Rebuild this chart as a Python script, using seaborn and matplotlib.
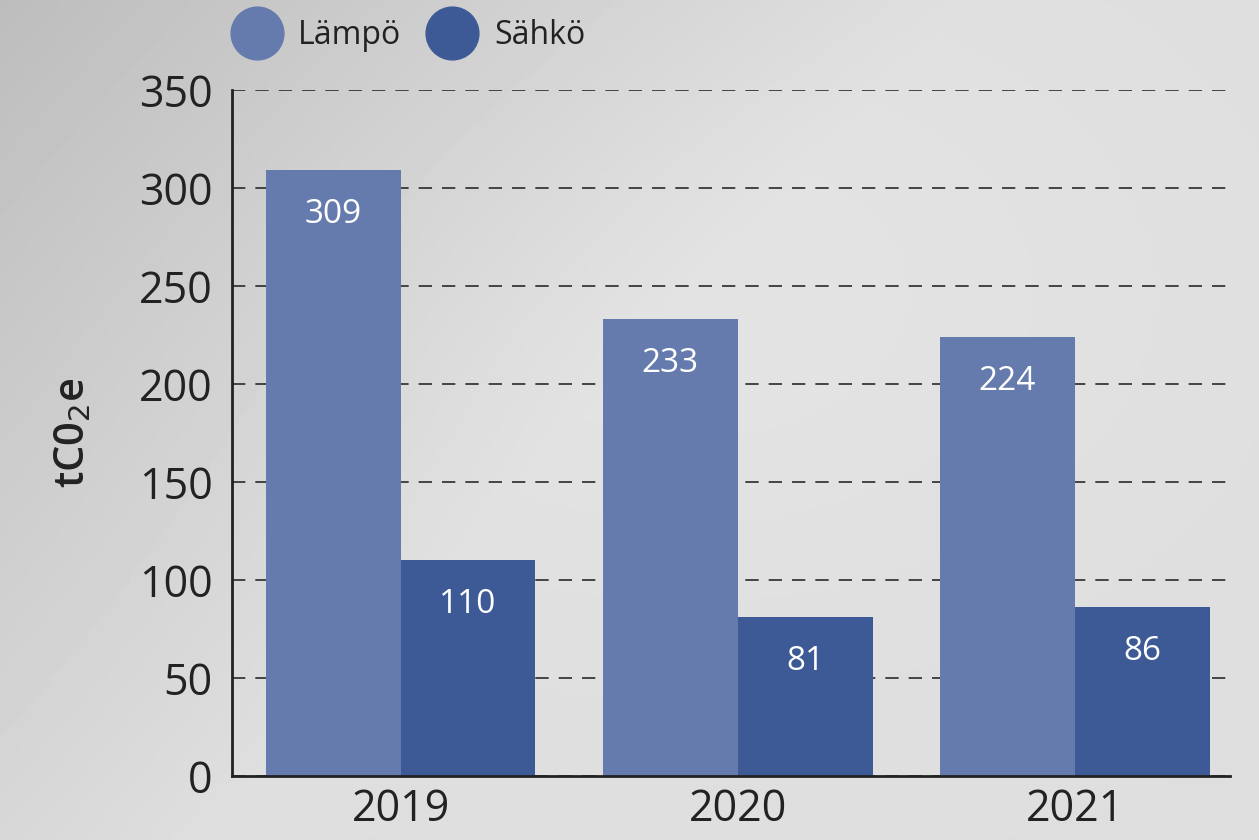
import numpy as np
import pandas as pd
import matplotlib.pyplot as plt
import seaborn as sns
from matplotlib.lines import Line2D

# Data
years = ['2019', '2020', '2021']
lampo = [309, 233, 224]
sahko = [110, 81, 86]
series_names = ['Lämpö', 'Sähkö']
colors = ['#667bad', '#3d5a96']
y_ticks = [0, 50, 100, 150, 200, 250, 300, 350]

df = pd.DataFrame({
    'year': years * 2,
    'value': lampo + sahko,
    'type': [series_names[0]] * 3 + [series_names[1]] * 3,
})

sns.set_style('white')
plt.rcParams['font.family'] = ['Open Sans', 'DejaVu Sans']

fig = plt.figure(figsize=(12.59, 8.40), dpi=100)

# grey photo-like background
bg = fig.add_axes([0, 0, 1, 1], zorder=-10)
yy, xx = np.mgrid[0:1:200j, 0:1:300j]
grad = 0.74 + 0.13 * np.clip(xx * 1.3 + yy * 0.8, 0, 1) + 0.02 * np.exp(-((xx - 0.55) ** 2 + (yy - 0.35) ** 2) * 6)
bg.imshow(grad, cmap='gray', vmin=0, vmax=1, aspect='auto', extent=[0, 1, 1, 0])
bg.axis('off')

ax = fig.add_axes([232 / 1259, 64 / 840, (1230 - 232) / 1259, (776 - 90) / 840])
ax.patch.set_alpha(0)

sns.barplot(data=df, x='year', y='value', hue='type', palette=colors,
            width=0.8, saturation=1, linewidth=0, ax=ax, legend=False)

for cont in ax.containers:
    for bar in cont:
        h = bar.get_height()
        ax.annotate(f'{int(h)}', (bar.get_x() + bar.get_width() / 2, h),
                    xytext=(0, -32), textcoords='offset points',
                    ha='center', va='center', color='white', fontsize=24)

ax.set_ylim(0, 350)
ax.set_xlim(-0.5, 2.46)
ax.set_yticks(y_ticks)
ax.yaxis.grid(True, linestyle=(0, (8, 6)), color='#2a2a2a', linewidth=1.2)
ax.xaxis.grid(False)
ax.set_axisbelow(True)

for side in ['top', 'right']:
    ax.spines[side].set_visible(False)
for side in ['left', 'bottom']:
    ax.spines[side].set_color('#222222')
    ax.spines[side].set_linewidth(2)

ax.tick_params(axis='y', length=0, pad=14, labelsize=31, labelcolor='#222222')
ax.tick_params(axis='x', length=0, pad=8, labelsize=31, labelcolor='#222222')
ax.set_xlabel('')
ax.set_ylabel('tC0$_2$e', fontsize=30, color='#222222', fontweight='semibold', labelpad=32)

handles = [Line2D([0], [0], marker='o', linestyle='', markersize=38,
                  markerfacecolor=c, markeredgecolor=c) for c in colors]
fig.legend(handles, series_names, loc='center left', bbox_to_anchor=(231 / 1259, 1 - 36 / 840),
           ncol=2, frameon=False, fontsize=23, handletextpad=0.5, columnspacing=0.8,
           borderpad=0, borderaxespad=0, handlelength=1.6, labelcolor='#222222')

fig.savefig('out.png', dpi=100)
